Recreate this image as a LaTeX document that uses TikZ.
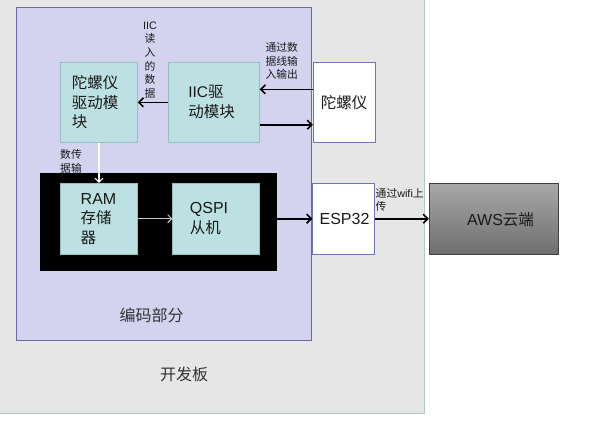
\documentclass[tikz,border=0pt]{standalone}
\usepackage{fontspec}
\setmainfont{Noto Sans CJK SC}
\newfontfamily\lat{Liberation Sans}
\usetikzlibrary{arrows.meta}
\definecolor{boardfill}{HTML}{E6E6E6}
\definecolor{boardline}{HTML}{B4C6C6}
\definecolor{encfill}{HTML}{D3D3F0}
\definecolor{encline}{HTML}{6A6AA8}
\definecolor{tealfill}{HTML}{BDE0E2}
\definecolor{tealline}{HTML}{93BFBF}
\definecolor{whiteline}{HTML}{7474B8}
\definecolor{awstop}{HTML}{A8A8A8}
\definecolor{awsbot}{HTML}{6E6E6E}
\definecolor{awsline}{HTML}{404040}
\definecolor{txt}{HTML}{1A1A1A}
\definecolor{rampath}{HTML}{C8C8C8}
\tikzset{
  box/.style={draw, line width=0.8pt, inner sep=0pt},
  tealbox/.style={box, fill=tealfill, draw=tealline},
  whitebox/.style={box, fill=white, draw=whiteline},
  bigtxt/.style={font=\fontsize{15.5}{19.5}\selectfont, text=txt, align=left, inner sep=0pt},
  smalltxt/.style={font=\fontsize{10.8}{13.6}\selectfont, text=txt, inner sep=0pt},
  regiontxt/.style={font=\fontsize{16}{20}\selectfont, text=black!80, inner sep=0pt},
  arr/.style={line width=1.6pt, -{Straight Barb[length=4.5pt,width=9pt]}},
}
\begin{document}
\begin{tikzpicture}[x=1pt,y=-1pt]
\clip (0,0) rectangle (613,437);
\useasboundingbox (0,0) rectangle (613,437);
% board
\path[fill=boardfill, draw=boardline, line width=0.8pt] (-3,-3) rectangle (424,413);
% encoding region
\path[fill=encfill, draw=encline, line width=0.9pt] (16,7) rectangle (311.7,340.7);
% black box
\node[box, fill=black, draw=black, minimum width=236pt, minimum height=96.7pt] (blk) at (158,221.7) {};
% boxes
\node[tealbox, minimum width=76.6pt, minimum height=80pt] (gyrodrv) at (99,102.3) {};
\node[tealbox, minimum width=91pt, minimum height=80pt] (iic) at (213.8,102.3) {};
\node[whitebox, minimum width=62.4pt, minimum height=80pt] (gyro) at (344.5,102.3) {};
\node[tealbox, minimum width=77.7pt, minimum height=70.7pt] (ram) at (98.8,218.7) {};
\node[tealbox, minimum width=86.6pt, minimum height=70.7pt] (qspi) at (216,218.7) {};
\node[whitebox, minimum width=61.6pt, minimum height=70.7pt] (esp) at (343.5,218.7) {};
\node[box, draw=awsline, top color=awstop, bottom color=awsbot, minimum width=129pt, minimum height=70.7pt] (aws) at (493.8,218.7) {};
% box labels
\node[bigtxt] (gyrodrvt) at (95,102.3) {陀螺仪\\驱动模\\块};
\node[bigtxt] (iict) at (211.5,102) {{\lat IIC}驱\\动模块};
\node[bigtxt] (gyrot) at (344,103) {陀螺仪};
\node[bigtxt] (ramt) at (98.5,218.7) {{\lat\fontsize{16}{19.5}\selectfont RAM}\\存储\\器};
\node[bigtxt] (qspit) at (209,218.5) {{\lat\fontsize{16}{19.5}\selectfont QSPI}\\从机};
\node[bigtxt, font=\lat\fontsize{16}{19.5}\selectfont] (espt) at (344.5,219) {ESP32};
\node[bigtxt] (awst) at (500.5,219.3) {{\lat\fontsize{16}{19.5}\selectfont AWS}云端};
% region labels
\node[regiontxt] (enct) at (151.7,315) {编码部分};
\node[regiontxt] (boardt) at (184,374) {开发板};
% connector labels
\node[smalltxt, align=center] (iicread) at (150,60) {{\lat IIC}\\读\\入\\的\\数\\据};
\node[smalltxt, align=left] (dataline) at (281.7,61) {通过数\\据线输\\入输出};
\node[smalltxt, align=left] (datatx) at (71,161.5) {数传\\据输};
\node[smalltxt, align=left, anchor=west] (wifi) at (375.5,200) {通过{\lat wifi}上\\传};
% connectors
\draw[arr] ([yshift=13pt]gyro.west) -- ([yshift=13pt]iic.east);
\draw[arr] ([yshift=-22.4pt]iic.east) -- ([yshift=-22.4pt]gyro.west);
\draw[arr] (iic.west) -- (gyrodrv.east);
\draw[line width=1.1pt, white, -{Straight Barb[length=4pt,width=8pt]}] (gyrodrv.south) -- (gyrodrv.south |- ram.north);
\draw[line width=0.9pt, rampath, -{Straight Barb[length=4pt,width=8pt]}] (ram.east) -- (qspi.west);
\draw[arr] (blk.east |- esp.west) -- (esp.west);
\draw[arr] (esp.east) -- (aws.west);
\end{tikzpicture}
\end{document}
